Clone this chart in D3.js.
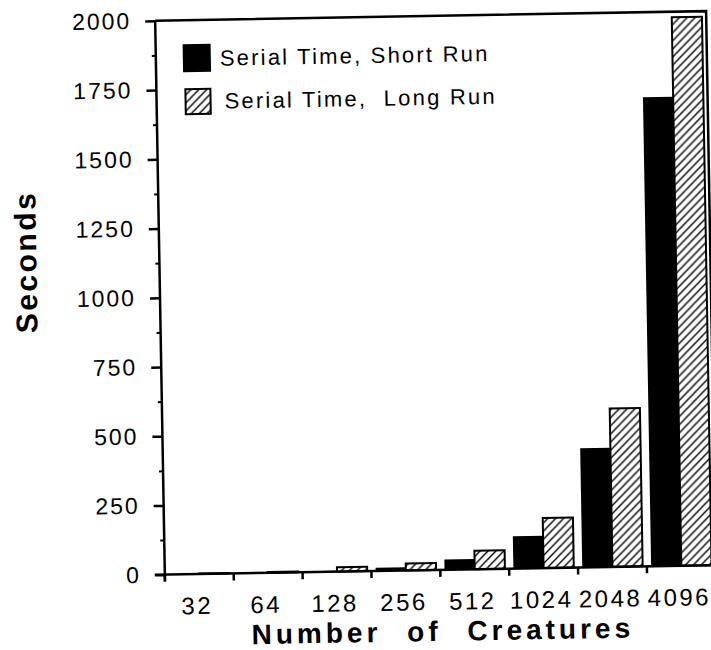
<!DOCTYPE html>
<html>
<head>
<meta charset="utf-8">
<script src="https://cdn.jsdelivr.net/npm/d3@7"></script>
<style>
  body { margin: 0; background: #fff; }
  text { font-family: "Liberation Sans", Arial, Helvetica, sans-serif; fill: #000; }
</style>
</head>
<body>
<div id="chart-area"></div>
<script>
// creature counts on the x axis
let categories = ["32", "64", "128", "256", "512", "1024", "2048", "4096"];
// serial time in seconds
let shortRun = [1, 2, 3, 12, 37, 117, 430, 1693];
let longRun = [2, 3, 16, 25, 67, 181, 572, 1980];
let seriesNames = ["Serial Time, Short Run", "Serial Time,  Long Run"];
let yTicks = [0, 250, 500, 750, 1000, 1250, 1500, 1750, 2000];
let yMinorTicks = [125, 375, 625, 875, 1125, 1375, 1625, 1875];

const W = 711, H = 650;
const plotLeft = 160, plotRight = 711, plotTop = 16, plotBottom = 570;

const svg = d3.select('#chart-area').append('svg')
    .attr('width', W).attr('height', H);

svg.append('rect').attr('width', W).attr('height', H).attr('fill', '#fff');

// diagonal hatch for the long run bars
let pat = svg.append('defs').append('pattern')
    .attr('id', 'hatch').attr('patternUnits', 'userSpaceOnUse')
    .attr('width', 8).attr('height', 8);
pat.append('rect').attr('width', 8).attr('height', 8).attr('fill', '#fff');
pat.append('path').attr('d', 'M-2,2 L2,-2 M0,8 L8,0 M6,10 L10,6')
    .attr('stroke', '#000').attr('stroke-width', 1.4);

// the scanned figure sits about one degree off square
const g = svg.append('g').attr('transform', 'rotate(-1, 430, 295)');

let x = d3.scaleBand().domain(categories).range([plotLeft, plotRight]);
let xs = d3.scaleBand().domain([0, 1]).range([0, x.bandwidth()]).paddingOuter(0.14).paddingInner(0);
let y = d3.scaleLinear().domain([0, 2000]).range([plotBottom, plotTop]);

let rows = categories.map((c, i) => ({cat: c, vals: [shortRun[i], longRun[i]]}));

let groups = g.selectAll('.grp').data(rows).enter().append('g')
    .attr('transform', d => `translate(${x(d.cat)},0)`);

groups.selectAll('rect').data(d => d.vals.map((v, k) => ({v: v, k: k}))).enter().append('rect')
    .attr('x', d => xs(d.k))
    .attr('width', xs.bandwidth())
    .attr('y', d => y(d.v))
    .attr('height', d => y(0) - y(d.v))
    .attr('fill', d => d.k === 0 ? '#000' : 'url(#hatch)')
    .attr('stroke', '#000')
    .attr('stroke-width', d => d.k === 0 ? 0 : 2);

// frame: top and right
g.append('path')
    .attr('d', `M${plotLeft},${plotTop} L${plotRight},${plotTop} L${plotRight},${plotBottom}`)
    .attr('fill', 'none').attr('stroke', '#000').attr('stroke-width', 2.5);

// y axis
let yAxis = d3.axisLeft(y).tickValues(yTicks).tickSize(10).tickPadding(14).tickFormat(d3.format('d'));
let ya = g.append('g').attr('transform', `translate(${plotLeft},0)`).call(yAxis);
ya.select('.domain').attr('stroke-width', 2.5).attr('d', `M0,${plotTop} V${plotBottom + 6}`);
ya.selectAll('.tick line').attr('stroke-width', 2.5);
ya.selectAll('.tick text')
    .style('font-size', '23px').style('letter-spacing', '2px');
ya.attr('font-family', null).attr('font-size', null);

let yMinor = d3.axisLeft(y).tickValues(yMinorTicks).tickSize(4).tickFormat('');
let ym = g.append('g').attr('transform', `translate(${plotLeft},0)`).call(yMinor);
ym.select('.domain').remove();
ym.selectAll('.tick line').attr('stroke-width', 2);

// x axis, ticks on the category boundaries
let xa = g.append('g').attr('transform', `translate(0,${plotBottom})`);
xa.append('line').attr('x1', plotLeft - 10).attr('x2', plotRight).attr('stroke', '#000').attr('stroke-width', 2.5);
xa.selectAll('.bt').data(categories).enter().append('line')
    .attr('x1', d => x(d)).attr('x2', d => x(d))
    .attr('y1', 0).attr('y2', 7)
    .attr('stroke', '#000').attr('stroke-width', 2.5);
xa.selectAll('.lbl').data(categories).enter().append('text')
    .attr('x', d => x(d) + x.bandwidth() / 2 - 2.5)
    .attr('y', 40)
    .attr('text-anchor', 'middle')
    .style('font-size', '24px').style('letter-spacing', '2.5px')
    .text(d => d);

// axis titles
g.append('text')
    .attr('x', 437).attr('y', 641)
    .attr('text-anchor', 'middle')
    .style('font-size', '28px').style('font-weight', 'bold')
    .style('letter-spacing', '4px').style('word-spacing', '14px')
    .text('Number of Creatures');

g.append('text')
    .attr('transform', 'translate(37,255) rotate(-90)')
    .attr('text-anchor', 'middle')
    .style('font-size', '30px').style('font-weight', 'bold')
    .style('letter-spacing', '2.5px')
    .text('Seconds');

// legend
let legend = [{x: 187, y: 40, s: 28, fill: '#000', sw: 0, tx: 224, ty: 62},
              {x: 189, y: 85, s: 25, fill: 'url(#hatch)', sw: 2, tx: 228, ty: 105}];
legend.forEach((l, i) => {
  g.append('rect').attr('x', l.x).attr('y', l.y).attr('width', l.s).attr('height', l.s)
    .attr('fill', l.fill).attr('stroke', '#000').attr('stroke-width', l.sw);
  g.append('text').attr('x', l.tx).attr('y', l.ty)
    .style('font-size', '22px').style('letter-spacing', '2.2px').style('white-space', 'pre')
    .text(seriesNames[i]);
});
</script>
</body>
</html>
